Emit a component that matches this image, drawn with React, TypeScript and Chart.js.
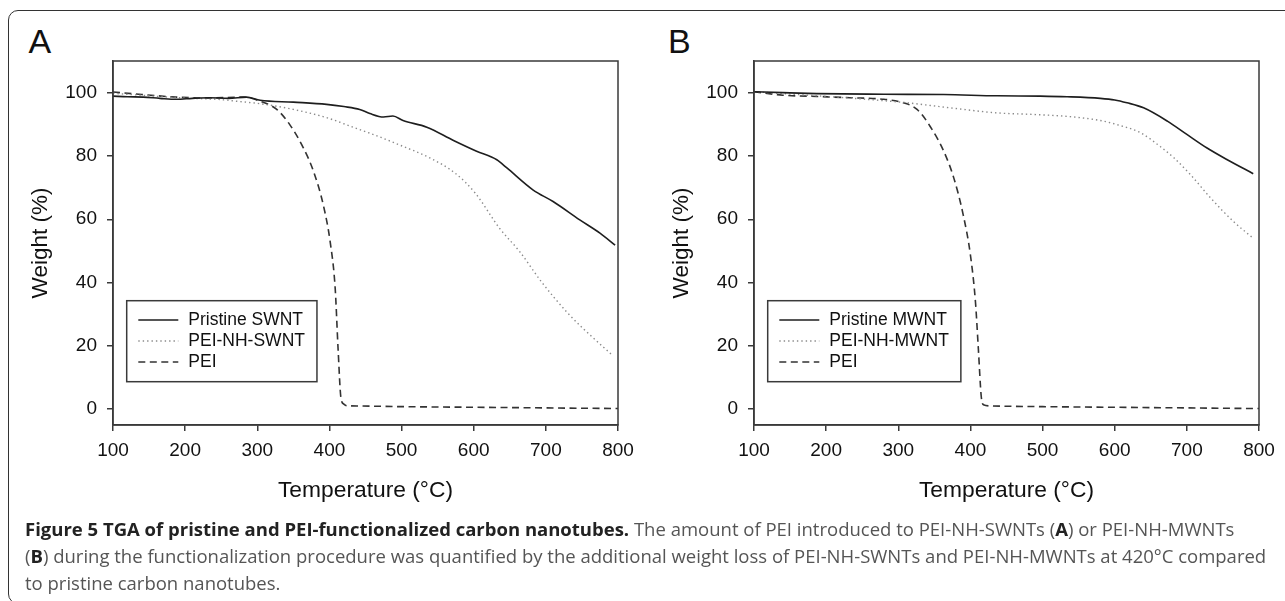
import React, { useEffect, useRef } from 'react';
import { Chart, registerables } from 'chart.js';

Chart.register(...registerables);

const FONT = "'Liberation Sans', Arial, Helvetica, sans-serif";

// Axis ticks
const xTicks = [100, 200, 300, 400, 500, 600, 700, 800];
const yTicks = [0, 20, 40, 60, 80, 100];

// Panel A (SWNT)
const aPristineT = [100, 120, 142, 165, 188, 210, 234, 260, 285, 304, 350, 396, 420, 442, 456, 475, 488, 502, 535, 572, 604, 632, 646, 682, 710, 747, 775, 796];
const aPristineW = [98.9, 98.7, 98.6, 98.2, 97.9, 98.2, 98.4, 98.2, 98.6, 97.6, 97.0, 96.3, 95.6, 94.7, 93.4, 92.3, 92.6, 91.2, 89.1, 84.9, 81.5, 78.8, 76.2, 69.3, 65.6, 59.8, 55.6, 51.8];

const aFuncT = [100, 150, 200, 250, 271, 304, 350, 396, 442, 456, 498, 539, 574, 602, 636, 664, 694, 729, 752, 793];
const aFuncW = [99.8, 99.0, 98.3, 97.8, 97.3, 96.5, 94.7, 92.1, 88.3, 87.2, 83.4, 79.4, 74.6, 68.3, 57.1, 49.7, 40.2, 30.7, 25.4, 16.9];

const aPeiT = [100, 140, 188, 230, 281, 304, 327, 345, 364, 378, 391.5, 401, 408, 412, 416, 420, 424, 440, 500, 600, 700, 800];
const aPeiW = [100.2, 99.4, 98.6, 98.3, 98.6, 97.3, 94.7, 89.9, 82.5, 75.1, 64.5, 52.9, 38.1, 19.0, 3.5, 1.6, 1.1, 1.0, 0.8, 0.6, 0.4, 0.2];

// Panel B (MWNT)
const bPristineT = [100, 140, 187, 280, 363, 437, 497, 534, 580, 600, 617, 640, 673, 700, 728, 756, 792];
const bPristineW = [100.3, 100.0, 99.7, 99.5, 99.4, 99.0, 98.9, 98.7, 98.2, 97.7, 96.8, 95.2, 91.0, 86.8, 82.5, 78.8, 74.4];

const bFuncT = [100, 187, 250, 312, 372, 437, 488, 534, 580, 603, 636, 663, 682, 705, 733, 765, 791];
const bFuncW = [100.3, 99.0, 98.0, 96.8, 95.2, 93.6, 93.1, 92.5, 91.2, 89.9, 87.3, 83.0, 79.4, 74.1, 66.7, 59.2, 54.2];

const bPeiT = [100, 140, 187, 233, 280, 307, 326, 344, 363, 377, 390, 400, 407, 411, 415, 418, 430, 500, 600, 700, 800];
const bPeiW = [100.3, 99.2, 98.8, 98.4, 97.9, 96.8, 94.7, 89.4, 81.5, 73.0, 61.4, 48.7, 33.8, 19.0, 4.0, 1.4, 1.0, 0.8, 0.6, 0.4, 0.2];

const pts = (t: number[], w: number[]) => t.map((x, i) => ({ x, y: w[i] }));

const framePlugin = {
  id: 'frame',
  afterDraw(chart: any) {
    const { ctx, chartArea } = chart;
    const { left, top, right, bottom } = chartArea;
    ctx.save();
    ctx.strokeStyle = '#3a3a3a';
    ctx.lineWidth = 1.5;
    ctx.strokeRect(left, top, right - left, bottom - top);
    ctx.restore();
  },
};

const boxLegendPlugin = {
  id: 'boxLegend',
  afterDraw(chart: any) {
    const { ctx, chartArea } = chart;
    const x0 = chartArea.left + 13.7;
    const y0 = chartArea.top + 239.7;
    ctx.save();
    ctx.font = `17.5px ${FONT}`;
    const dsets = chart.data.datasets;
    let maxW = 0;
    dsets.forEach((d: any) => { maxW = Math.max(maxW, ctx.measureText(d.label).width); });
    const w = 61.6 + maxW + 12;
    const h = 81;
    ctx.fillStyle = '#ffffff';
    ctx.fillRect(x0, y0, w, h);
    ctx.strokeStyle = '#3a3a3a';
    ctx.lineWidth = 1.5;
    ctx.strokeRect(x0, y0, w, h);
    dsets.forEach((d: any, i: number) => {
      const y = y0 + 19.3 + i * 21;
      ctx.beginPath();
      ctx.setLineDash(d.borderDash || []);
      ctx.strokeStyle = d.borderColor;
      ctx.lineWidth = d.borderWidth;
      ctx.moveTo(x0 + 11.6, y);
      ctx.lineTo(x0 + 51.6, y);
      ctx.stroke();
      ctx.setLineDash([]);
      ctx.fillStyle = '#111111';
      ctx.textBaseline = 'middle';
      ctx.textAlign = 'left';
      ctx.fillText(d.label, x0 + 61.6, y + 0.5);
    });
    ctx.restore();
  },
};

function makeConfig(labels: string[], series: { x: number; y: number }[][]) {
  const styles = [
    { borderColor: '#1e1e1e', borderWidth: 1.6, borderDash: [] as number[] },
    { borderColor: '#8a8a8a', borderWidth: 1.4, borderDash: [1.4, 3] },
    { borderColor: '#333333', borderWidth: 1.6, borderDash: [7, 4.5] },
  ];
  return {
    type: 'line' as const,
    data: {
      datasets: series.map((s, i) => ({
        label: labels[i],
        data: s,
        borderColor: styles[i].borderColor,
        borderWidth: styles[i].borderWidth,
        borderDash: styles[i].borderDash,
        pointRadius: 0,
        fill: false,
        cubicInterpolationMode: 'monotone' as const,
      })),
    },
    options: {
      animation: false as const,
      responsive: false,
      devicePixelRatio: window.devicePixelRatio || 1,
      layout: { padding: { left: 0, top: 11, right: 22, bottom: 0 } },
      plugins: { legend: { display: false }, tooltip: { enabled: false } },
      scales: {
        x: {
          type: 'linear' as const,
          min: 100,
          max: 800,
          afterBuildTicks: (s: any) => { s.ticks = xTicks.map((v) => ({ value: v })); },
          afterFit: (s: any) => { s.height = 95; s.paddingLeft = 0; s.paddingRight = 0; },
          grid: { display: true, drawOnChartArea: false, drawTicks: true, tickLength: 6, color: '#3a3a3a', lineWidth: 1.5 },
          border: { display: true, color: '#3a3a3a', width: 1.5 },
          ticks: { font: { family: FONT, size: 19 }, color: '#111111', padding: 8, maxRotation: 0, autoSkip: false },
          title: { display: true, text: 'Temperature (°C)', font: { family: FONT, size: 22.8 }, color: '#111111', padding: { top: 0, bottom: 15.5 } },
        },
        y: {
          type: 'linear' as const,
          min: -5,
          max: 110,
          afterBuildTicks: (s: any) => { s.ticks = yTicks.map((v) => ({ value: v })); },
          afterFit: (s: any) => { s.width = 113; s.paddingTop = 0; s.paddingBottom = 0; },
          grid: { display: true, drawOnChartArea: false, drawTicks: true, tickLength: 6, color: '#3a3a3a', lineWidth: 1.5 },
          border: { display: true, color: '#3a3a3a', width: 1.5 },
          ticks: { font: { family: FONT, size: 19 }, color: '#111111', padding: 10 },
          title: { display: true, text: 'Weight (%)', font: { family: FONT, size: 22.5 }, color: '#111111', padding: { top: 27.5, bottom: 0 } },
        },
      },
    },
    plugins: [framePlugin, boxLegendPlugin],
  };
}

function TgaChart(props: { labels: string[]; series: { x: number; y: number }[][]; left: number }) {
  const ref = useRef<HTMLCanvasElement | null>(null);
  useEffect(() => {
    if (!ref.current) return;
    const chart = new Chart(ref.current, makeConfig(props.labels, props.series) as any);
    return () => chart.destroy();
  }, []);
  return (
    <canvas
      ref={ref}
      width={640}
      height={470}
      style={{ position: 'absolute', left: props.left, top: 50, width: 640, height: 470 }}
    />
  );
}

export default function App() {
  const labelA = ['Pristine SWNT', 'PEI-NH-SWNT', 'PEI'];
  const labelB = ['Pristine MWNT', 'PEI-NH-MWNT', 'PEI'];
  const seriesA = [pts(aPristineT, aPristineW), pts(aFuncT, aFuncW), pts(aPeiT, aPeiW)];
  const seriesB = [pts(bPristineT, bPristineW), pts(bFuncT, bFuncW), pts(bPeiT, bPeiW)];
  const letter: React.CSSProperties = {
    position: 'absolute', fontFamily: FONT, fontSize: 34, lineHeight: '34px', color: '#111', top: 23.5,
  };
  return (
    <div style={{ position: 'absolute', left: 0, top: 0, width: 1285, height: 601, overflow: 'hidden', background: '#fff' }}>
      <div style={{ position: 'absolute', left: 8, top: 10, width: 1300, height: 594, border: '1.5px solid #333', borderRadius: 10, boxSizing: 'border-box' }} />
      <div style={{ ...letter, left: 28.5 }}>A</div>
      <div style={{ ...letter, left: 668 }}>B</div>
      <TgaChart labels={labelA} series={seriesA} left={0} />
      <TgaChart labels={labelB} series={seriesB} left={641} />
      <div style={{ position: 'absolute', left: 25, top: 514.5, fontFamily: "'Open Sans', 'Noto Sans', sans-serif", fontSize: 18.5, lineHeight: '27px', color: '#555555', whiteSpace: 'nowrap' }}>
        <b style={{ color: '#222' }}>Figure 5 TGA of pristine and PEI-functionalized carbon nanotubes.</b> The amount of PEI introduced to PEI-NH-SWNTs (<b style={{ color: '#222' }}>A</b>) or PEI-NH-MWNTs
        <br />
        (<b style={{ color: '#222' }}>B</b>) during the functionalization procedure was quantified by the additional weight loss of PEI-NH-SWNTs and PEI-NH-MWNTs at 420°C compared
        <br />
        to pristine carbon nanotubes.
      </div>
    </div>
  );
}
